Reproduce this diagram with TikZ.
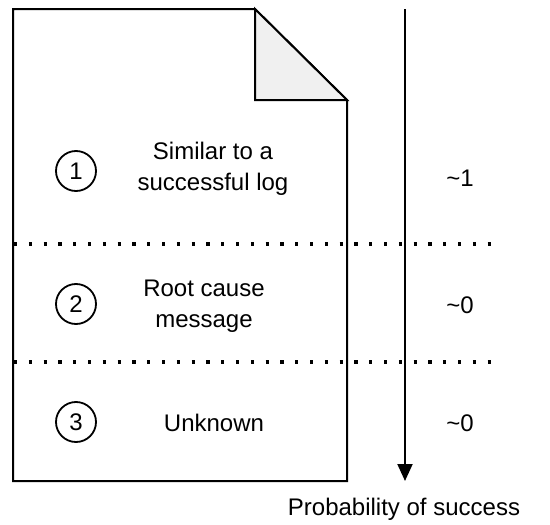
\documentclass[tikz,border=0pt]{standalone}
\usepackage{fontspec}
\setmainfont{Liberation Sans}
\usetikzlibrary{arrows.meta}
\begin{document}
\begin{tikzpicture}[x=1pt,y=-1pt,
  doc/.style={line width=2pt,line join=miter},
  fold/.style={line width=2pt,fill=black!6,line join=miter},
  sep/.style={line width=3.2pt,dash pattern=on 3.2pt off 11.6pt},
  num/.style={circle,draw,line width=1.8pt,minimum size=40pt,inner sep=0pt,font=\fontsize{24}{26}\selectfont},
  lbl/.style={align=center,font=\fontsize{24}{31}\selectfont},
  axis/.style={line width=2pt,-{Triangle[length=17pt,width=15pt]}}]
\useasboundingbox (0,0) rectangle (550,525);
\draw[doc] (13,9) -- (255,9) -- (347,100) -- (347,481) -- (13,481) -- cycle;
\draw[fold] (255,9) -- (255,100) -- (347,100) -- cycle;
\coordinate (s1a) at (14,244);
\coordinate (s1b) at (500,244);
\coordinate (s2a) at (14,362);
\coordinate (s2b) at (500,362);
\draw[sep] (s1a) -- (s1b);
\draw[sep] (s2a) -- (s2b);
\coordinate (atop) at (405,9);
\coordinate (abot) at (405,481);
\draw[axis] (atop) -- (abot);
\node[num] (n1) at (76,171) {1};
\node[num] (n2) at (76,304) {2};
\node[num] (n3) at (76,422) {3};
\node[lbl] (t1) at (213,169) {Similar to a\\successful log};
\node[lbl] (t2) at (204,306) {Root cause\\message};
\node[lbl] (t3) at (214,423) {Unknown};
\node[lbl] (p1) at (460,178) {\textasciitilde1};
\node[lbl] (p2) at (460,305) {\textasciitilde0};
\node[lbl] (p3) at (460,423) {\textasciitilde0};
\node[lbl] (pt) at (404,509) {Probability of success};
\end{tikzpicture}
\end{document}
